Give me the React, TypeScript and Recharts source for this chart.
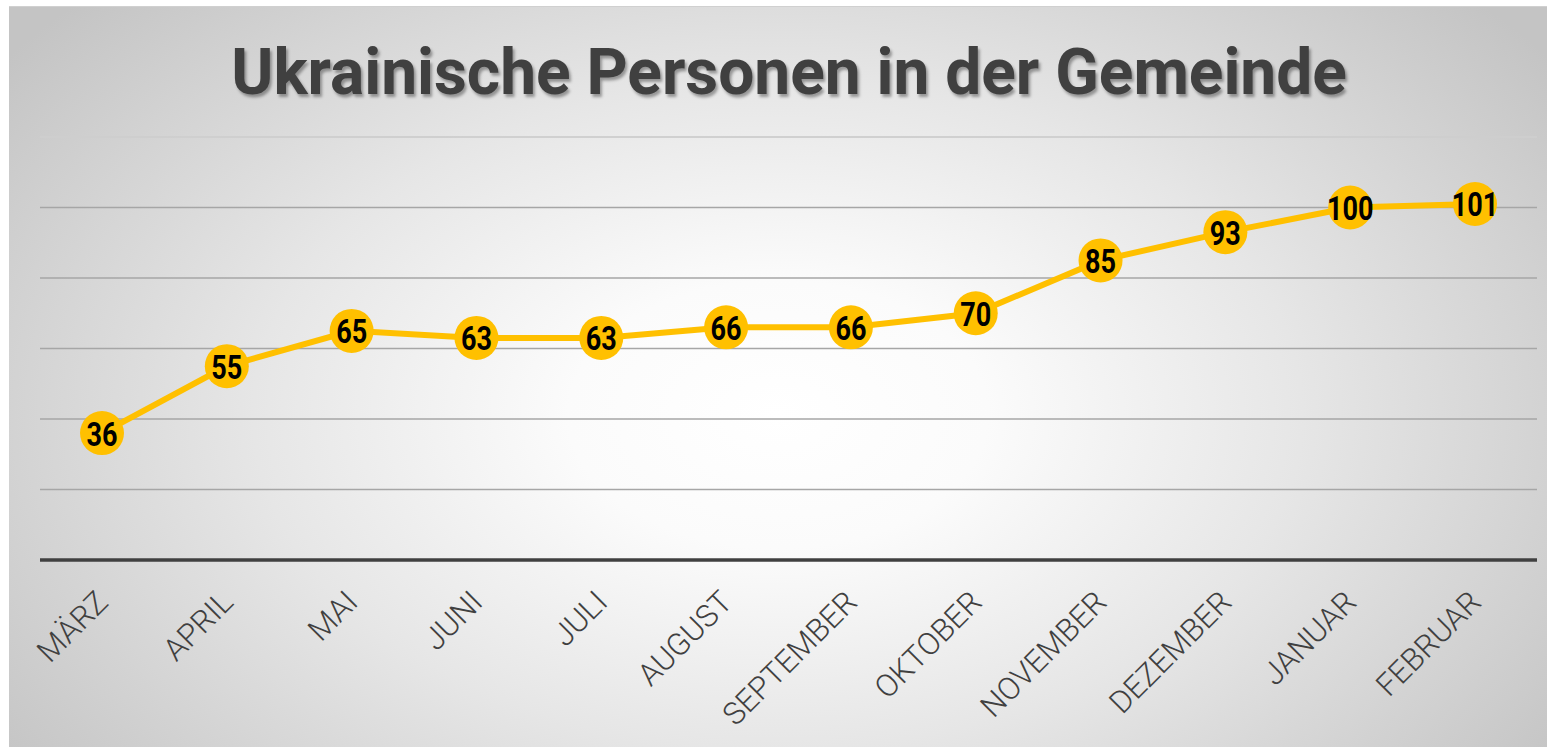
import React, { useLayoutEffect } from 'react'
import { LineChart, Line, XAxis, YAxis, CartesianGrid, LabelList, ReferenceLine } from 'recharts'

const months = ['MÄRZ', 'APRIL', 'MAI', 'JUNI', 'JULI', 'AUGUST', 'SEPTEMBER', 'OKTOBER', 'NOVEMBER', 'DEZEMBER', 'JANUAR', 'FEBRUAR']
const persons = [36, 55, 65, 63, 63, 66, 66, 70, 85, 93, 100, 101]
const yTicks = [0, 20, 40, 60, 80, 100, 120]

const data = months.map((m, i) => ({ month: m, value: persons[i] }))

const YELLOW = '#FFC000'

const MonthTick = ({ x, y, payload }: any) => (
  <text
    transform={`translate(${x + 8},${y + 36}) rotate(-45)`}
    textAnchor="end"
    fontFamily="Roboto"
    fontWeight={300}
    fontSize={31}
    fill="#404040"
  >
    {payload.value}
  </text>
)

const ValueLabel = ({ x, y, value }: any) => (
  <text
    transform={`translate(${x},${y + 1}) scale(0.82,1)`}
    textAnchor="middle"
    dominantBaseline="central"
    fontFamily="Roboto"
    fontWeight={700}
    fontSize={33}
    fill="#000"
  >
    {value}
  </text>
)

export default function App() {
  useLayoutEffect(() => {
    document.documentElement.style.overflow = 'hidden'
    document.documentElement.style.background = '#c6c6c6'
    document.body.style.overflow = 'hidden'
  }, [])

  return (
    <div style={{ position: 'fixed', left: 0, top: 0, width: 1547, height: 747, background: '#fff', overflow: 'hidden' }}>
      <div
        style={{
          position: 'absolute',
          left: 9,
          top: 6,
          width: 1538,
          height: 741,
          borderTop: '1px solid #d0d0d0',
          background: 'radial-gradient(ellipse 62% 82% at 50% 55%, #ffffff 0%, #fbfbfb 22%, #e6e6e6 55%, #c4c4c4 100%)',
        }}
      >
        <div
          style={{
            position: 'absolute',
            left: 11,
            width: 1538,
            top: 26,
            textAlign: 'center',
            fontFamily: 'Roboto',
            fontWeight: 700,
            fontSize: 64,
            color: '#404040',
            textShadow: '2px 3px 3px rgba(0,0,0,0.35)',
            lineHeight: '80px',
          }}
        >
          Ukrainische Personen in der Gemeinde
        </div>
        <div style={{ position: 'absolute', left: 0, top: 0 }}>
          <LineChart width={1538} height={740} data={data} margin={{ top: 130, right: 10, bottom: 0, left: 31 }}>
            <CartesianGrid vertical={false} stroke="#a6a6a6" strokeWidth={1.3} />
            <ReferenceLine y={120} stroke="#d9d9d9" strokeWidth={1.3} />
            <XAxis
              dataKey="month"
              height={187}
              interval={0}
              padding={{ left: 62, right: 62 }}
              tickLine={false}
              axisLine={{ stroke: '#404040', strokeWidth: 3.5 }}
              tick={<MonthTick />}
            />
            <YAxis hide domain={[0, 120]} ticks={yTicks} />
            <Line
              type="linear"
              dataKey="value"
              stroke={YELLOW}
              strokeWidth={6}
              dot={{ r: 22, fill: YELLOW, stroke: 'none' }}
              activeDot={false}
              isAnimationActive={false}
            >
              <LabelList dataKey="value" content={<ValueLabel />} />
            </Line>
          </LineChart>
        </div>
      </div>
    </div>
  )
}
